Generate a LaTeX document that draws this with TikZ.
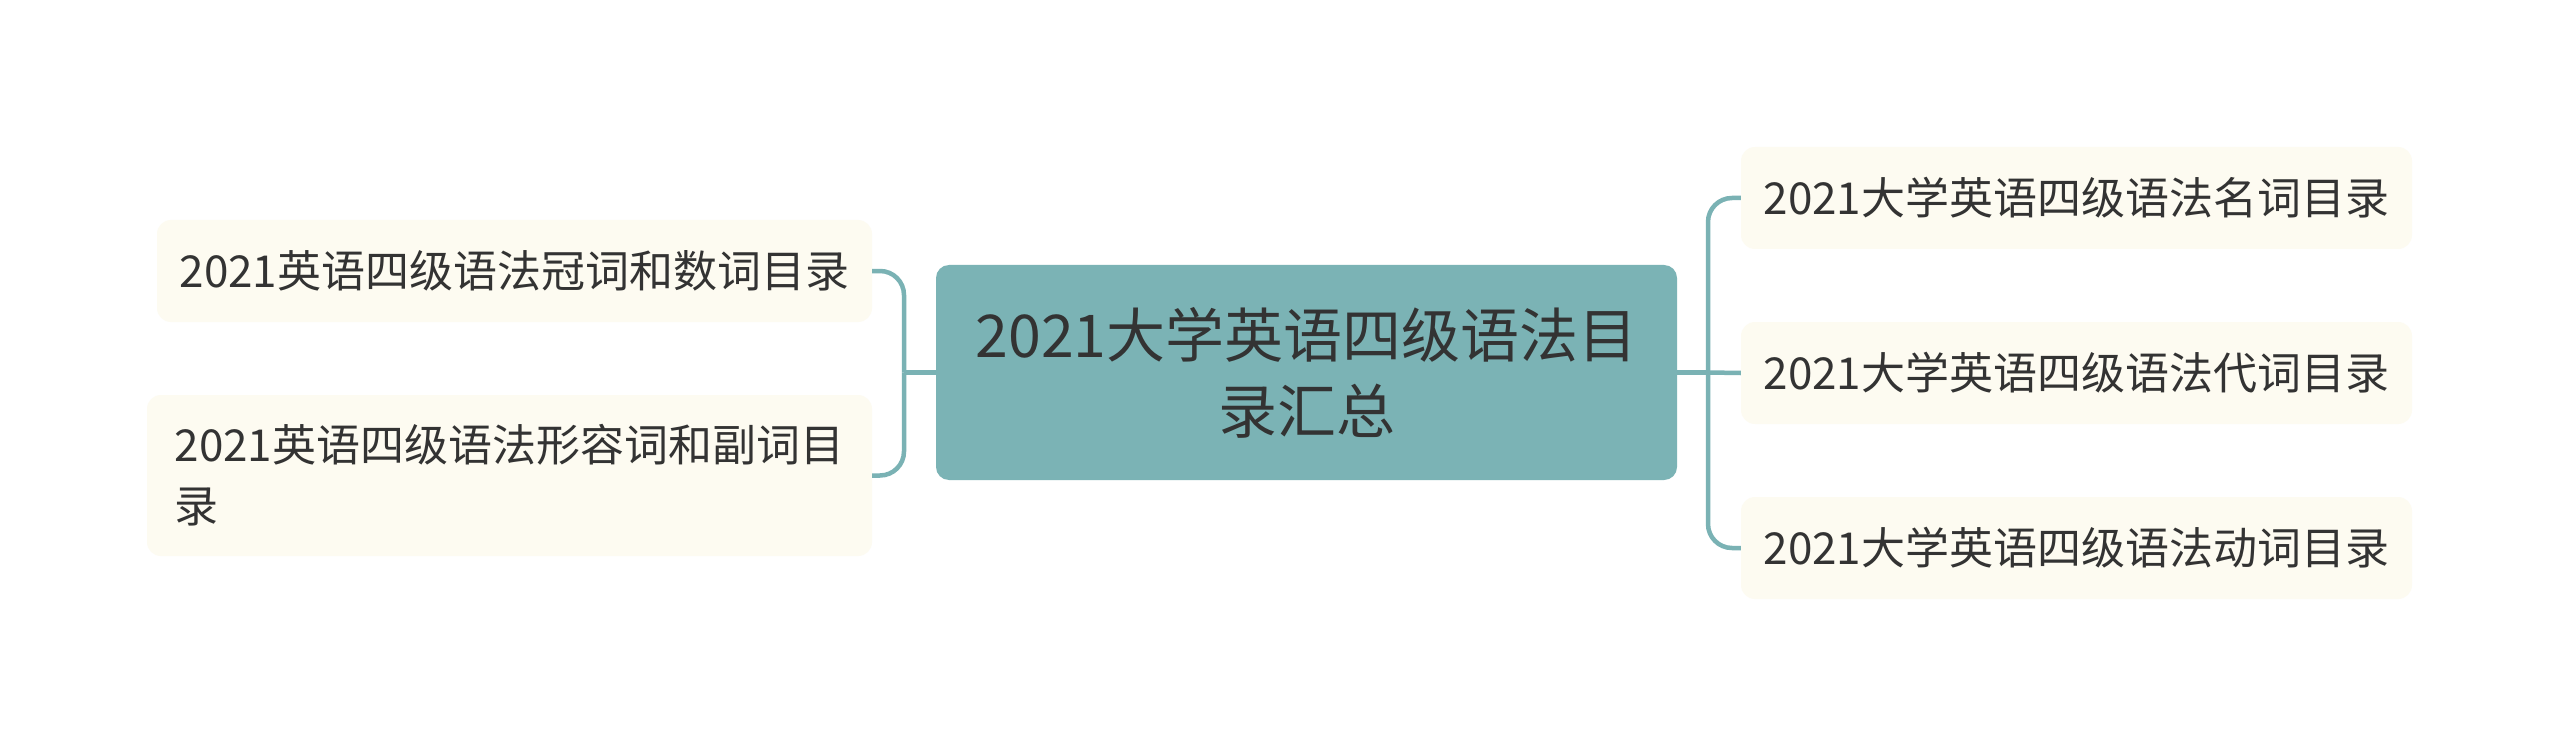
\documentclass[tikz,border=0pt]{standalone}
\usepackage{fontspec}
\setmainfont{Noto Sans CJK SC}
\definecolor{teal1}{HTML}{7BB3B5}
\definecolor{conncol}{HTML}{7AB2B4}
\definecolor{cream}{HTML}{FDFBF1}
\definecolor{txt}{HTML}{333333}
\tikzset{
  mainbox/.style={fill=teal1, rounded corners=13pt, inner sep=0pt, minimum width=741pt, minimum height=215pt, align=center, text=txt, font=\fontsize{59}{76}\selectfont},
  subbox/.style={fill=cream, rounded corners=14pt, inner sep=0pt, minimum height=102pt, text=txt, font=\fontsize{44}{61}\selectfont},
  conn/.style={draw=conncol, line width=4.5pt, rounded corners=24pt}
}
\begin{document}
\begin{tikzpicture}[x=1pt,y=-1pt]
\useasboundingbox[fill=white] (0,0) rectangle (2560,746);
\node[mainbox] (C) at (1306.5,372.5) {2021大学英语四级语法目\\录汇总};
\node[subbox, minimum width=715pt] (L1) at (514.5,271) {2021英语四级语法冠词和数词目录};
\node[subbox, minimum width=725pt, minimum height=161pt, align=left] (L2) at (509.5,475.5) {2021英语四级语法形容词和副词目\\录};
\node[subbox, minimum width=671pt] (R1) at (2076.5,198) {2021大学英语四级语法名词目录};
\node[subbox, minimum width=671pt] (R2) at (2076.5,373) {2021大学英语四级语法代词目录};
\node[subbox, minimum width=671pt] (R3) at (2076.5,548) {2021大学英语四级语法动词目录};
\coordinate (rj) at (1708,372.5);
\coordinate (lj) at (904,372.5);
\draw[conn] (C.east) -- (rj);
\draw[conn] (R1.west) -| (rj);
\draw[conn] (R3.west) -| (rj);
\draw[conn] (R2.west) -- (rj);
\draw[conn] (C.west) -- (lj);
\draw[conn] (L1.east) -| (lj);
\draw[conn] (L2.east) -| (lj);
\end{tikzpicture}
\end{document}
